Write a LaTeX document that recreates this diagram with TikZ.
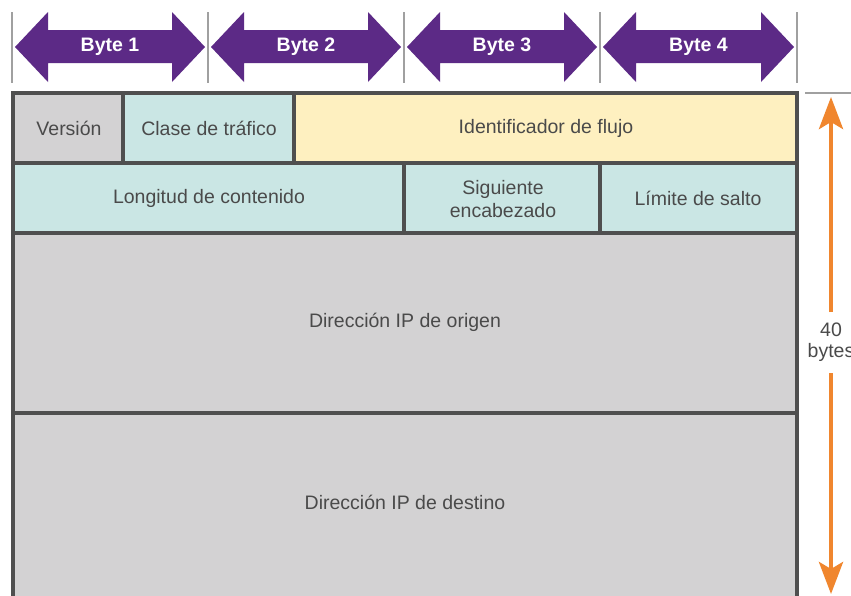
\documentclass[tikz,border=0pt]{standalone}
\usepackage{fontspec}
\setmainfont{Liberation Sans}
\usetikzlibrary{arrows.meta}
\definecolor{bytepurple}{HTML}{5C2A86}
\definecolor{cellgray}{HTML}{D3D2D3}
\definecolor{cellcyan}{HTML}{CAE6E4}
\definecolor{cellyellow}{HTML}{FEF0C0}
\definecolor{borderc}{HTML}{4F4F4F}
\definecolor{textc}{HTML}{4A4A4A}
\definecolor{sepc}{HTML}{A0A0A0}
\definecolor{orangec}{HTML}{F0862E}
\tikzset{
  celltext/.style={text=textc, font=\fontsize{19.5}{23}\selectfont, align=center, inner sep=0pt},
  bytetext/.style={text=white, font=\bfseries\fontsize{19.5}{23}\selectfont, inner sep=0pt},
  cellborder/.style={draw=borderc, line width=3.2pt},
  sepline/.style={draw=sepc, line width=1.4pt},
  bytearrow/.style={fill=bytepurple, draw=none},
  sizearrow/.style={draw=orangec, line width=4.5pt, -{Stealth[width=24pt,length=32pt,inset=7pt]}},
}
\begin{document}
\begin{tikzpicture}[x=1pt,y=-1pt]
\useasboundingbox (0,0) rectangle (851,595);
\fill[white] (0,0) rectangle (851,595);
% separators
\foreach \sx in {12,208,404,600,797} {
  \draw[sepline] (\sx,12) -- (\sx,83);
}
% byte arrows
\foreach \a/\b/\n in {12/208/1,208/404/2,404/600/3,600/797/4} {
  \path[bytearrow] (\a+3,47) -- (\a+36,12) -- (\a+36,30) -- (\b-36,30) -- (\b-36,12) -- (\b-3,47)
     -- (\b-36,82) -- (\b-36,63) -- (\a+36,63) -- (\a+36,82) -- cycle;
  \node[bytetext] (byte\n) at ({(\a+\b)/2},47) {Byte \n};
}
% cell fills
\fill[cellgray] (13,93) rectangle (123,163);
\fill[cellcyan] (123,93) rectangle (294,163);
\fill[cellyellow] (294,93) rectangle (797,163);
\fill[cellcyan] (13,163) rectangle (797,233);
\fill[cellgray] (13,233) rectangle (797,600);
% borders
\draw[cellborder] (13,600) -- (13,93) -- (797,93) -- (797,600);
\draw[cellborder] (13,163) -- (797,163);
\draw[cellborder] (13,233) -- (797,233);
\draw[cellborder] (13,413) -- (797,413);
\draw[cellborder] (123,93) -- (123,163);
\draw[cellborder] (294,93) -- (294,163);
\draw[cellborder] (404,163) -- (404,233);
\draw[cellborder] (600,163) -- (600,233);
% texts
\node[celltext] (ver) at (69,128) {Versión};
\node[celltext] (clase) at (209,128) {Clase de tráfico};
\node[celltext] (flujo) at (546,128) {Identificador de flujo};
\node[celltext] (long) at (209,198) {Longitud de contenido};
\node[celltext] (sig) at (503,199) {Siguiente\\encabezado};
\node[celltext] (lim) at (698,198) {Límite de salto};
\node[celltext] (orig) at (405,322) {Dirección IP de origen};
\node[celltext] (dest) at (405,502) {Dirección IP de destino};
% size arrow
\draw[sepline] (805,93) -- (851,93);
\node[celltext, font=\fontsize{19.5}{21}\selectfont] (size) at (831,342) {40\\bytes};
\coordinate (topc) at (831,97);
\coordinate (botc) at (831,594);
\coordinate (upstart) at (831,312);
\coordinate (downstart) at (831,373);
\draw[sizearrow] (upstart) -- (topc);
\draw[sizearrow] (downstart) -- (botc);
\end{tikzpicture}
\end{document}
